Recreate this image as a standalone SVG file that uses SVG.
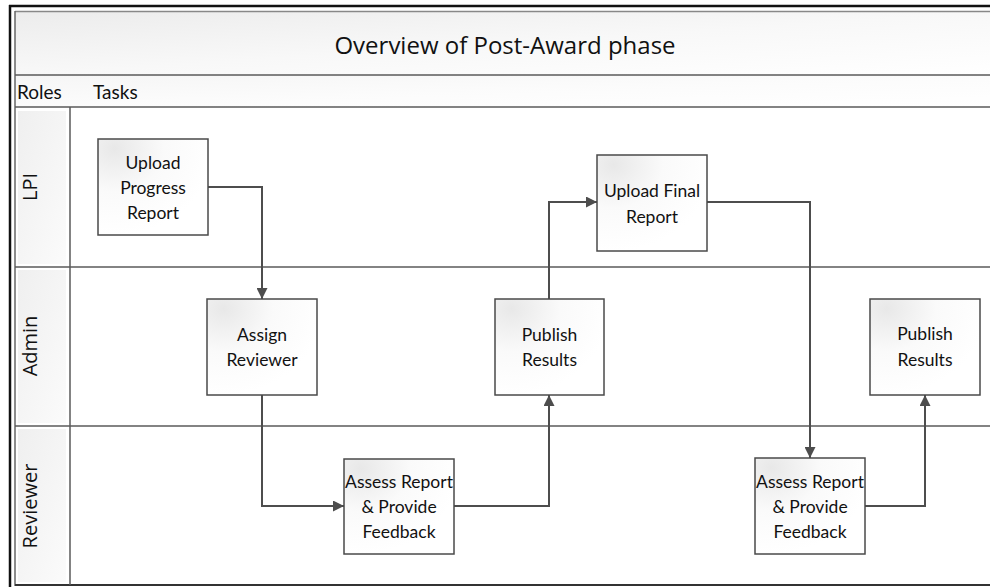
<svg xmlns="http://www.w3.org/2000/svg" width="990" height="587" viewBox="0 0 990 587">
<defs>
<linearGradient id="band" x1="0" y1="0" x2="1" y2="1">
<stop offset="0" stop-color="#ececec"/>
<stop offset="0.5" stop-color="#f8f8f8"/>
<stop offset="1" stop-color="#ffffff"/>
</linearGradient>
<linearGradient id="cell" x1="0" y1="0" x2="1" y2="1">
<stop offset="0" stop-color="#efefef"/>
<stop offset="1" stop-color="#fbfbfb"/>
</linearGradient>
<radialGradient id="node" cx="0.15" cy="0.1" r="0.9">
<stop offset="0" stop-color="#e8e8e8"/>
<stop offset="0.5" stop-color="#fafafa"/>
<stop offset="1" stop-color="#ffffff"/>
</radialGradient>
<marker id="arr" markerUnits="userSpaceOnUse" markerWidth="11" markerHeight="11" viewBox="0 0 11 11" refX="11" refY="5.5" orient="auto">
<path d="M0,0 L11,5.5 L0,11 Z" fill="#4d4d4d"/>
</marker>
<style>
.lane{stroke:#5a5a5a;stroke-width:1.5;fill:none}
.box{fill:url(#node);stroke:#4a4a4a;stroke-width:1.5}
.t{font-family:Lato,"Liberation Sans",sans-serif;font-size:17.5px;fill:#111;text-anchor:middle;dominant-baseline:central}
.role{font-family:"Open Sans","Noto Sans",sans-serif;font-size:20px;fill:#111;text-anchor:middle;dominant-baseline:central}
.hdr{font-family:Lato,"Liberation Sans",sans-serif;font-size:19px;fill:#111;dominant-baseline:central}
.con{fill:none;stroke:#4d4d4d;stroke-width:2;marker-end:url(#arr)}
</style>
</defs>
<rect width="990" height="587" fill="#ffffff"/>
<g id="frame">
<rect x="15" y="12" width="980" height="63" fill="url(#band)"/>
<rect x="15" y="75" width="980" height="32" fill="url(#band)" opacity="0.5"/>
<line x1="9" y1="6" x2="990" y2="6" stroke="#111" stroke-width="2.5"/>
<line x1="10" y1="5" x2="10" y2="587" stroke="#111" stroke-width="2.5"/>
<line x1="15" y1="11.5" x2="990" y2="11.5" stroke="#888" stroke-width="1.5"/>
<line x1="15" y1="11" x2="15" y2="586" stroke="#666" stroke-width="1.5"/>
<line class="lane" x1="15" y1="75" x2="990" y2="75"/>
<line class="lane" x1="15" y1="107" x2="990" y2="107"/>
<line class="lane" x1="15" y1="267" x2="990" y2="267"/>
<line class="lane" x1="15" y1="426" x2="990" y2="426"/>
<line x1="15" y1="585" x2="990" y2="585" stroke="#333" stroke-width="2"/>
<line class="lane" x1="70" y1="107" x2="70" y2="585"/>
<rect x="18" y="111" width="48" height="153" fill="url(#cell)"/>
<rect x="18" y="270" width="48" height="153" fill="url(#cell)"/>
<rect x="18" y="429" width="48" height="153" fill="url(#cell)"/>
<text x="505" y="44" style="font-family:'Open Sans','Noto Sans',sans-serif;font-size:24px;fill:#111;text-anchor:middle;dominant-baseline:central">Overview of Post-Award phase</text>
<text class="hdr" x="17" y="91">Roles</text>
<text class="hdr" x="93" y="91">Tasks</text>
<text class="role" transform="translate(29,187) rotate(-90)">LPI</text>
<text class="role" transform="translate(29,346) rotate(-90)">Admin</text>
<text class="role" transform="translate(29,506) rotate(-90)">Reviewer</text>
</g>
<g id="connectors">
<path class="con" d="M208,187 H262 V299"/>
<path class="con" d="M262,395 V506 H344"/>
<path class="con" d="M454,506 H549 V395"/>
<path class="con" d="M549,299 V202 H597"/>
<path class="con" d="M707,202 H810 V458"/>
<path class="con" d="M865,506 H925 V395"/>
</g>
<g id="upload-progress">
<rect class="box" x="98" y="139" width="110" height="96"/>
<text class="t" x="153" y="162">Upload</text>
<text class="t" x="153" y="187">Progress</text>
<text class="t" x="153" y="212">Report</text>
</g>
<g id="assign-reviewer">
<rect class="box" x="207" y="299" width="110" height="96"/>
<text class="t" x="262" y="334">Assign</text>
<text class="t" x="262" y="359">Reviewer</text>
</g>
<g id="assess-1">
<rect class="box" x="344" y="459" width="110" height="95"/>
<text class="t" x="399" y="481">Assess Report</text>
<text class="t" x="399" y="506">&amp; Provide</text>
<text class="t" x="399" y="531">Feedback</text>
</g>
<g id="publish-1">
<rect class="box" x="495" y="299" width="109" height="96"/>
<text class="t" x="549.5" y="334">Publish</text>
<text class="t" x="549.5" y="359">Results</text>
</g>
<g id="upload-final">
<rect class="box" x="597" y="155" width="110" height="96"/>
<text class="t" x="652" y="190">Upload Final</text>
<text class="t" x="652" y="216">Report</text>
</g>
<g id="assess-2">
<rect class="box" x="755" y="458" width="110" height="96"/>
<text class="t" x="810" y="481">Assess Report</text>
<text class="t" x="810" y="506">&amp; Provide</text>
<text class="t" x="810" y="531">Feedback</text>
</g>
<g id="publish-2">
<rect class="box" x="870" y="299" width="110" height="96"/>
<text class="t" x="925" y="333">Publish</text>
<text class="t" x="925" y="359">Results</text>
</g>
</svg>
